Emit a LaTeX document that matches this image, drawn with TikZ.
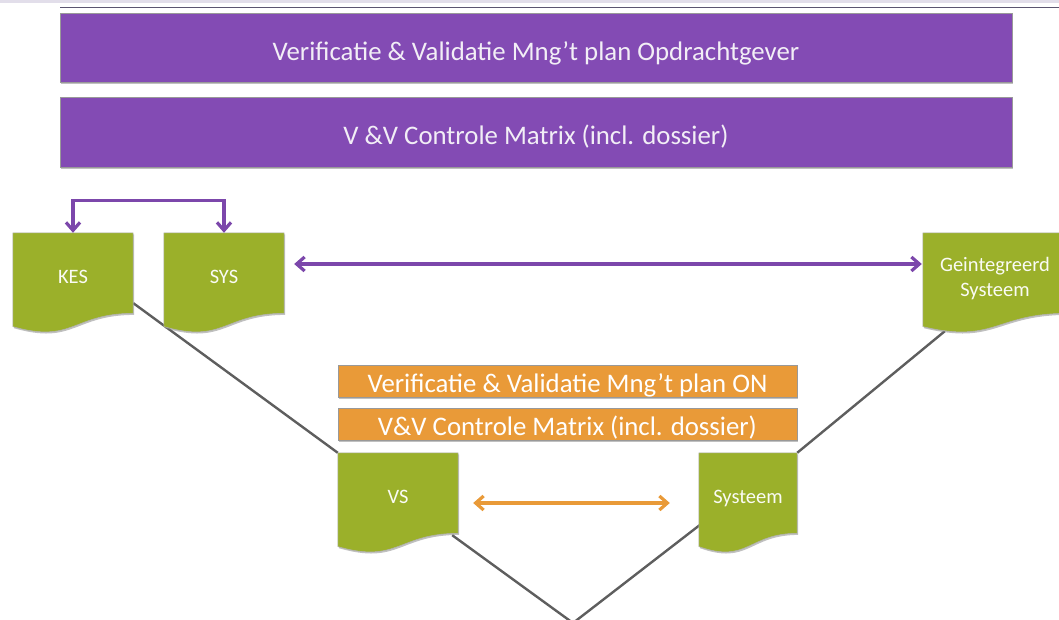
\documentclass[tikz,border=0pt]{standalone}
\usepackage{fontspec}
\setmainfont{Carlito}
\usetikzlibrary{arrows.meta,calc,backgrounds}
\definecolor{vpurple}{HTML}{834BB4}
\definecolor{vgreen}{HTML}{9BB02A}
\definecolor{vorange}{HTML}{E99A38}
\definecolor{vline}{HTML}{5E5E5E}
\definecolor{vband}{HTML}{E2DEEA}
\definecolor{vtop}{HTML}{5B5670}
\definecolor{vtext}{HTML}{F2EEF6}
\tikzset{
  shade off/.style={preaction={fill=black!45,opacity=0.55,transform canvas={xshift=1pt,yshift=-1.6pt}}},
  planbox/.style={rectangle,fill=vpurple,draw=black!40,line width=0.8pt,shade off,
    text=vtext,font=\fontsize{26.8}{30}\selectfont,inner sep=0pt,
    text height=26pt,text depth=0pt},
  onbox/.style={rectangle,fill=vorange,draw=black!40,line width=0.8pt,shade off,
    text=white,font=\fontsize{26.8}{30}\selectfont,inner sep=0pt,
    text height=23.4pt,text depth=0pt},
  docnode/.style={rectangle,minimum height=100pt,inner sep=0pt,text=white!95!vgreen,
    font=\fontsize{20.5}{25}\selectfont,align=center,text depth=13pt},
  docfill/.style={fill=vgreen,draw=black!30,line width=0.5pt,shade off},
  vconn/.style={draw=vline,line width=2.4pt},
  parrow/.style={draw=vpurple!95!black,line width=3.2pt,
    {Straight Barb[length=8pt,width=14pt]}-{Straight Barb[length=8pt,width=14pt]}},
  oarrow/.style={draw=vorange,line width=3.2pt,
    {Straight Barb[length=8pt,width=14pt]}-{Straight Barb[length=8pt,width=14pt]}}
}
\newcommand\docshape[1]{%
  \path[docfill] (#1.north west) -- (#1.north east)
    -- ($(#1.north east)!0.802!(#1.south east)$)
    .. controls ($(#1.north)!0.802!(#1.south)$) and ($(#1.north)!1.107!(#1.south)$)
    .. ($(#1.north west)!0.934!(#1.south west)$) -- cycle;}
\begin{document}
\begin{tikzpicture}[x=1pt,y=-1pt]
\useasboundingbox (0,0) rectangle (1059,620);
% top strip
\fill[vband] (0,0) rectangle (1059,3.5);
\coordinate (tl) at (60,7.5);
\coordinate (tr) at (1059,7.5);
\draw[vtop,line width=1.6pt] (tl) -- (tr);

% purple boxes
\node[planbox,minimum width=952pt,minimum height=69pt] (p1) at (536,47.5)
  {Verificatie \& Validatie Mng’t plan Opdrachtgever};
\node[planbox,minimum width=952pt,minimum height=70pt] (p2) at (536,132)
  {V \&V Controle Matrix (incl. dossier)};

% orange boxes
\node[onbox,minimum width=459pt,minimum height=32pt] (o1) at (567.5,381)
  {Verificatie \& Validatie Mng’t plan ON};
\node[onbox,minimum width=459pt,minimum height=32pt] (o2) at (567.5,424)
  {V\&V Controle Matrix (incl. dossier)};

% document nodes
\node[docnode,minimum width=120pt] (kes) at (73,283) {KES};
\node[docnode,minimum width=120pt] (sys) at (224,283) {SYS};
\node[docnode,minimum width=144pt] (geint) at (995,283) {Geintegreerd\\Systeem};
\node[docnode,minimum width=120pt] (vs) at (398,503) {VS};
\node[docnode,minimum width=98pt] (systeem) at (748,503) {Systeem};
\coordinate (vtx) at (573,623);

\begin{pgfonlayer}{background}
  \draw[vconn] ($(kes.north east)!0.7!(kes.south east)$) -- (vs.north west);
  \draw[vconn] ($(vs.south east)+(-6,-18)$) -- (vtx) -- ($(systeem.west)+(1,22)$);
  \draw[vconn] (systeem.north east) -- ($(geint.south west)+(22,-2)$);
  \docshape{kes}
  \docshape{sys}
  \docshape{geint}
  \docshape{vs}
  \docshape{systeem}
\end{pgfonlayer}

% connectors
\draw[parrow] (kes.north) -- ++(0,-32) -| (sys.north);
\draw[parrow,shorten <=10pt,shorten >=1pt] ([yshift=19pt]sys.east) -- ([yshift=19pt]geint.west);
\draw[oarrow,shorten <=15pt,shorten >=29pt] (vs.east) -- (systeem.west);
\end{tikzpicture}
\end{document}
